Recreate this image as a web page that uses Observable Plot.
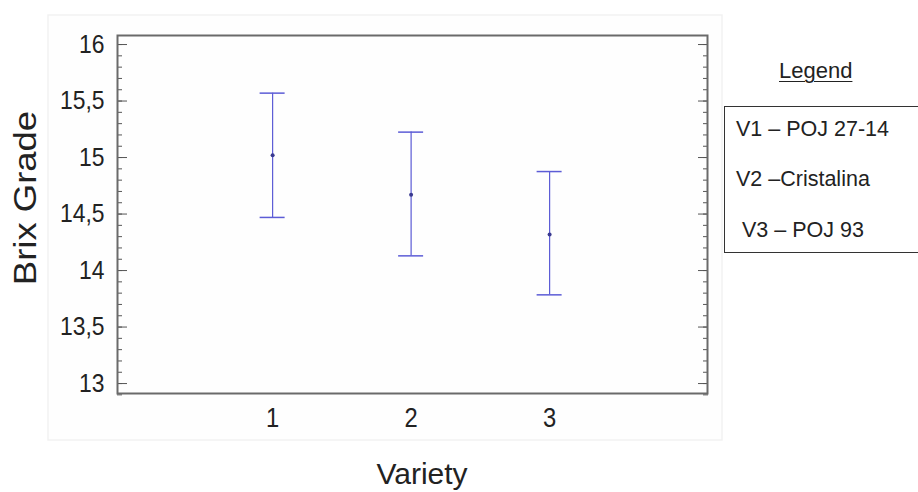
<!DOCTYPE html>
<html>
<head>
<meta charset="utf-8">
<script src="https://cdn.jsdelivr.net/npm/d3@7"></script>
<script src="https://cdn.jsdelivr.net/npm/@observablehq/plot@0.6"></script>
<style>
  html, body { margin: 0; padding: 0; background: #fff; }
  #wrap { position: relative; width: 918px; height: 492px; overflow: hidden; font-family: "Liberation Sans", Arial, sans-serif; }
  #chart { position: absolute; left: 0; top: 0; }
  .legend-title { position: absolute; left: 779px; top: 58px; font-size: 22px; color: #222; text-decoration: underline; text-underline-offset: 3px; text-decoration-thickness: 1px; }
  .legend-box { position: absolute; left: 724px; top: 106px; width: 220px; height: 147px; border: 1.5px solid #333; box-sizing: border-box; }
  .legend-item { position: absolute; font-size: 21.5px; color: #222; white-space: pre; }
</style>
</head>
<body>
<div id="wrap">
  <div id="chart"></div>
  <div class="legend-title">Legend</div>
  <div class="legend-box"></div>
</div>
<script>
// ---- data ----
const varieties = [1, 2, 3];
const means = [15.02, 14.67, 14.32];
const lower = [14.47, 14.13, 13.785];
const upper = [15.57, 15.225, 14.876];
const yMajorTicks = [13, 13.5, 14, 14.5, 15, 15.5, 16];
const yMinorTicks = d3.range(129, 161).map(v => v / 10);
const xTicks = [1, 2, 3];
const legendItems = ["V1 – POJ 27-14", "V2 –Cristalina", " V3 – POJ 93"];
const yTitle = "Brix Grade";
const xTitle = "Variety";

const rows = varieties.map((v, i) => ({variety: v, mean: means[i], lo: lower[i], hi: upper[i]}));
const fmt = d => String(d).replace(".", ",");
const barColor = "#5c5cd6";

const plot = Plot.plot({
  width: 918,
  height: 492,
  marginLeft: 117,
  marginRight: 211,
  marginTop: 35,
  marginBottom: 99,
  style: {fontFamily: "'Liberation Sans', Arial, sans-serif", background: "transparent", color: "#222"},
  x: {type: "linear", domain: [-0.12, 4.14], label: null},
  y: {domain: [12.912, 16.08], label: null},
  marks: [
    Plot.axisY(yMinorTicks, {anchor: "left", tickSize: -5, tickFormat: () => "", stroke: "#555", label: null}),
    Plot.axisY(yMajorTicks, {anchor: "left", tickSize: -10, tickPadding: 23, tickFormat: fmt, fontSize: 26, stroke: "#555", fill: "#222", label: null}),
    Plot.axisY(yMinorTicks, {anchor: "right", tickSize: -5, tickFormat: () => "", stroke: "#555", label: null}),
    Plot.axisY(yMajorTicks, {anchor: "right", tickSize: -10, tickFormat: () => "", stroke: "#555", label: null}),
    Plot.axisX(xTicks, {anchor: "bottom", tickSize: 0, tickPadding: 14, tickFormat: d => String(d), fontSize: 27, fill: "#222", label: null}),
    Plot.ruleX(rows, {x: "variety", y1: "lo", y2: "hi", stroke: barColor, strokeWidth: 1.2}),
    Plot.ruleY(rows, {y: "hi", x1: "variety", x2: "variety", insetLeft: -12.5, insetRight: -12.5, stroke: barColor, strokeWidth: 1.5}),
    Plot.ruleY(rows, {y: "lo", x1: "variety", x2: "variety", insetLeft: -12.5, insetRight: -12.5, stroke: barColor, strokeWidth: 1.5}),
    Plot.dot(rows, {x: "variety", y: "mean", r: 2, fill: "#3a3a90", stroke: "none"}),
    Plot.frame({stroke: "#6a6a6a", strokeWidth: 2})
  ]
});

document.getElementById("chart").appendChild(plot);

const svg = d3.select(plot);
// faint outer panel border
svg.insert("rect", ":first-child")
  .attr("x", 48).attr("y", 15).attr("width", 674).attr("height", 425)
  .attr("fill", "#fefefe").attr("stroke", "#f2f2f2").attr("stroke-width", 1.5);

// slightly narrow tick label glyphs, like the reference
svg.selectAll('g[aria-label="y-axis tick label"] text, g[aria-label="x-axis tick label"] text')
  .attr("transform", function() { return (this.getAttribute("transform") || "") + " scale(0.88,1)"; });

// axis titles
svg.append("text")
  .attr("transform", "translate(36,198) rotate(-90) scale(1.14,1)")
  .attr("text-anchor", "middle")
  .attr("font-size", 32)
  .attr("fill", "#222")
  .text(yTitle);
svg.append("text")
  .attr("x", 422).attr("y", 484)
  .attr("text-anchor", "middle")
  .attr("font-size", 30)
  .attr("fill", "#222")
  .text(xTitle);

// legend items
const wrap = document.getElementById("wrap");
const legendPos = [[736, 137], [736, 187], [736, 238]];
legendItems.forEach((t, i) => {
  const d = document.createElement("div");
  d.className = "legend-item";
  d.textContent = t;
  d.style.left = legendPos[i][0] + "px";
  d.style.top = (legendPos[i][1] - 20) + "px";
  wrap.appendChild(d);
});
</script>
</body>
</html>
